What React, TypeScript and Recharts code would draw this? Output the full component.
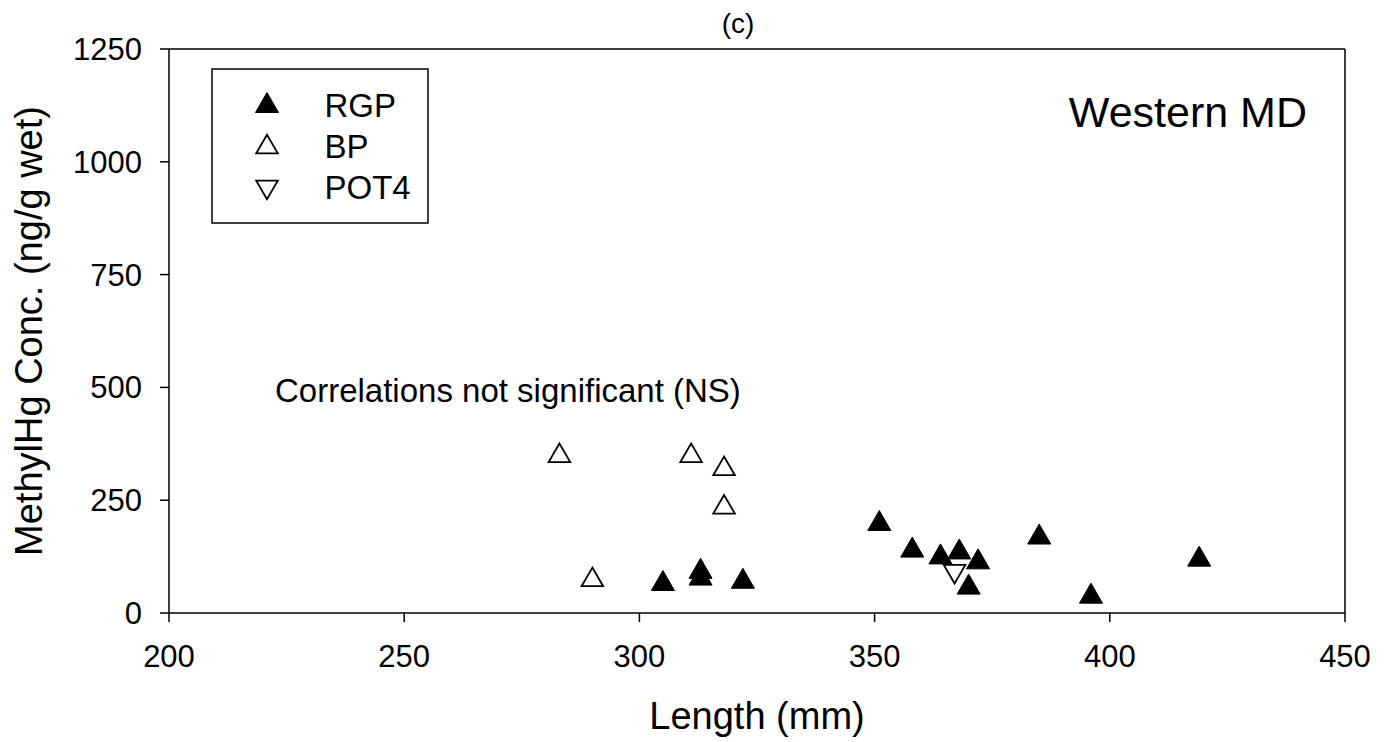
import React from 'react';
import { ScatterChart, Scatter, XAxis, YAxis, ReferenceLine, Customized } from 'recharts';

const FONT = '"Liberation Sans", Arial, sans-serif';

const rgpLength = [305, 313, 313, 322, 351, 358, 364, 368, 372, 370, 385, 396, 419];
const rgpConc = [72, 99, 84, 77, 205, 146, 131, 142, 120, 64, 175, 44, 126];
const bpLength = [283, 311, 318, 318, 290];
const bpConc = [355, 355, 326, 241, 80];
const pot4Length = [367];
const pot4Conc = [86];

const xTicks = [200, 250, 300, 350, 400, 450];
const yTicks = [0, 250, 500, 750, 1000, 1250];
const legendNames = ['RGP', 'BP', 'POT4'];

const toPoints = (xs: number[], ys: number[]) => xs.map((x, i) => ({ x, y: ys[i] }));
const rgpData = toPoints(rgpLength, rgpConc);
const bpData = toPoints(bpLength, bpConc);
const pot4Data = toPoints(pot4Length, pot4Conc);

type TriProps = { cx: number; cy: number; filled: boolean; down?: boolean };
const Tri = ({ cx, cy, filled, down }: TriProps) => {
  const hw = filled ? 11.5 : 10.8;
  const hh = filled ? 10 : 9.3;
  const pts = down
    ? `${cx},${cy + hh} ${cx - hw},${cy - hh} ${cx + hw},${cy - hh}`
    : `${cx},${cy - hh} ${cx - hw},${cy + hh} ${cx + hw},${cy + hh}`;
  return (
    <polygon
      points={pts}
      fill={filled ? '#000' : '#fff'}
      stroke="#000"
      strokeWidth={filled ? 1 : 1.8}
      strokeLinejoin="miter"
    />
  );
};

const legendStyles = [
  { filled: true, down: false, cy: 34.5, ty: 49 },
  { filled: false, down: false, cy: 76, ty: 90 },
  { filled: false, down: true, cy: 122, ty: 131 },
];

const Overlay = () => (
  <g fontFamily={FONT} fill="#000">
    <g transform="translate(211,68)">
      <rect x={1} y={1} width={216} height={154} fill="#fff" stroke="#000" strokeWidth={1.5} />
      {legendNames.map((n, i) => (
        <g key={n}>
          <Tri cx={56} cy={legendStyles[i].cy} filled={legendStyles[i].filled} down={legendStyles[i].down} />
          <text x={113.5} y={legendStyles[i].ty} fontSize={33}>{n}</text>
        </g>
      ))}
    </g>
    <text x={738} y={33} fontSize={28} textAnchor="middle">(c)</text>
    <text x={1307} y={127} fontSize={43} textAnchor="end">Western MD</text>
    <text x={275} y={402} fontSize={33}>Correlations not significant (NS)</text>
    <text x={757} y={729} fontSize={38} textAnchor="middle">Length (mm)</text>
    <text x={42} y={331} fontSize={38} textAnchor="middle" transform="rotate(-90, 42, 331)">
      MethylHg Conc. (ng/g wet)
    </text>
  </g>
);

export default function App() {
  return (
    <div style={{ position: 'absolute', left: 0, top: 0, background: '#fff' }}>
      <ScatterChart width={1393} height={742} margin={{ top: 49, right: 48, left: 0, bottom: 0 }}>
        <XAxis
          type="number"
          dataKey="x"
          domain={[200, 450]}
          ticks={xTicks}
          height={129}
          tickSize={9}
          tickMargin={23}
          axisLine={{ stroke: '#000', strokeWidth: 1.5 }}
          tickLine={{ stroke: '#000', strokeWidth: 1.5 }}
          tick={{ fill: '#000', fontSize: 31, fontFamily: FONT }}
          allowDataOverflow
        />
        <YAxis
          type="number"
          dataKey="y"
          domain={[0, 1250]}
          ticks={yTicks}
          width={169}
          tickSize={9}
          tickMargin={18}
          axisLine={{ stroke: '#000', strokeWidth: 1.5 }}
          tickLine={{ stroke: '#000', strokeWidth: 1.5 }}
          tick={{ fill: '#000', fontSize: 31, fontFamily: FONT }}
          allowDataOverflow
        />
        <ReferenceLine y={1250} stroke="#000" strokeWidth={1.5} />
        <ReferenceLine x={450} stroke="#000" strokeWidth={1.5} />
        <Scatter
          name="RGP"
          data={rgpData}
          isAnimationActive={false}
          shape={(p: any) => <Tri cx={p.cx} cy={p.cy} filled={true} />}
        />
        <Scatter
          name="BP"
          data={bpData}
          isAnimationActive={false}
          shape={(p: any) => <Tri cx={p.cx} cy={p.cy} filled={false} />}
        />
        <Scatter
          name="POT4"
          data={pot4Data}
          isAnimationActive={false}
          shape={(p: any) => <Tri cx={p.cx} cy={p.cy} filled={false} down={true} />}
        />
        <Customized component={Overlay} />
      </ScatterChart>
    </div>
  );
}
